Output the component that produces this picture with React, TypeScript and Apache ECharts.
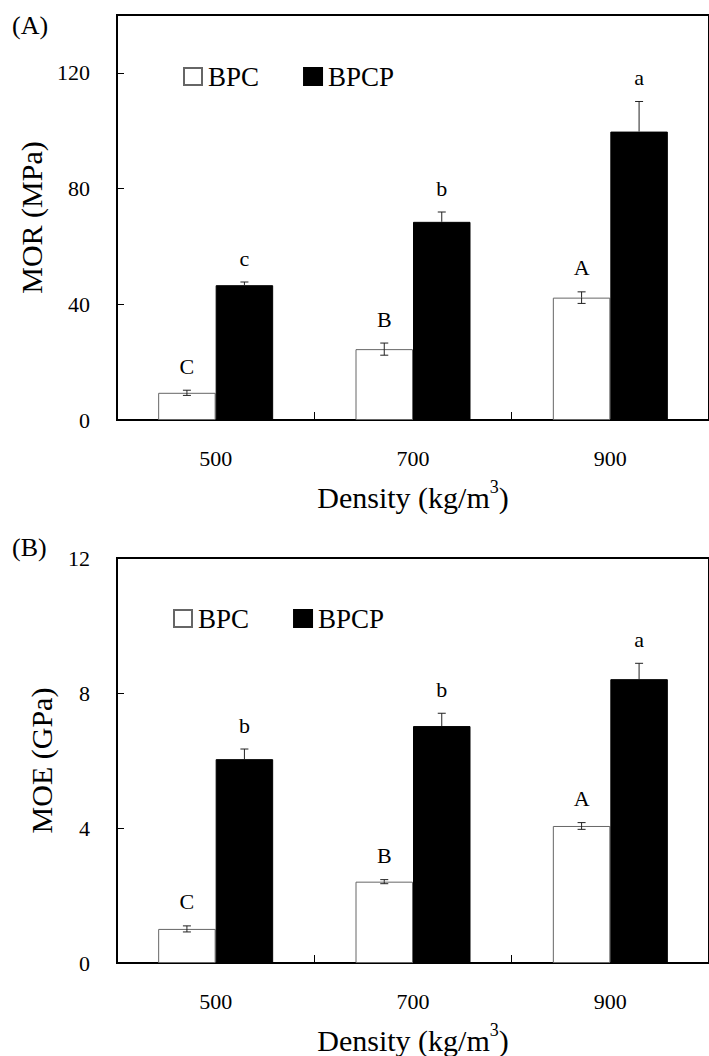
import React, { useEffect, useRef } from "react";
import * as echarts from "echarts";

const categories = ["500", "700", "900"];

const morBPC = [9.4, 24.5, 42.3];
const morBPCErr = [0.9, 2.1, 2.0];
const morBPCP = [46.6, 68.5, 99.7];
const morBPCPErr = [1.1, 3.4, 10.4];
const morBPCLetters = ["C", "B", "A"];
const morBPCPLetters = ["c", "b", "a"];

const moeBPC = [1.01, 2.41, 4.06];
const moeBPCErr = [0.09, 0.06, 0.1];
const moeBPCP = [6.04, 7.02, 8.41];
const moeBPCPErr = [0.3, 0.38, 0.47];
const moeBPCLetters = ["C", "B", "A"];
const moeBPCPLetters = ["b", "b", "a"];

const morTicks = { min: 0, max: 140, interval: 40 };
const moeTicks = { min: 0, max: 12, interval: 4 };

const FONT = '"Liberation Serif", "Times New Roman", serif';
const BAR_W = 57.5;

function errSeries(
  name: string,
  gridIdx: number,
  values: number[],
  errs: number[],
  letters: string[],
  offset: number,
  lowerVisible: boolean
) {
  return {
    type: "custom",
    name,
    xAxisIndex: gridIdx,
    yAxisIndex: gridIdx,
    z: 5,
    silent: true,
    encode: { x: 0, y: 1 },
    data: values.map((v, i) => [i, v, errs[i]]),
    renderItem: (params: any, api: any) => {
      const idx = api.value(0);
      const v = api.value(1);
      const e = api.value(2);
      const c = api.coord([idx, v]);
      const hi = api.coord([idx, v + e]);
      const lo = api.coord([idx, v - e]);
      const cx = c[0] + offset;
      const st = { stroke: "#222", lineWidth: 1 };
      const children: any[] = [
        { type: "line", shape: { x1: cx, y1: hi[1], x2: cx, y2: c[1] }, style: st },
        { type: "line", shape: { x1: cx - 4, y1: hi[1], x2: cx + 4, y2: hi[1] }, style: st },
        {
          type: "text",
          x: cx,
          y: hi[1] - 24,
          style: {
            text: letters[params.dataIndex],
            fill: "#000",
            font: `22px ${FONT}`,
            textAlign: "center",
            textVerticalAlign: "middle",
          },
        },
      ];
      if (lowerVisible) {
        children.push(
          { type: "line", shape: { x1: cx, y1: c[1], x2: cx, y2: lo[1] }, style: st },
          { type: "line", shape: { x1: cx - 4, y1: lo[1], x2: cx + 4, y2: lo[1] }, style: st }
        );
      }
      return { type: "group", children };
    },
  };
}

function yAxisCfg(gridIndex: number, name: string, t: { min: number; max: number; interval: number }, hideMax: boolean) {
  return {
    type: "value",
    gridIndex,
    min: t.min,
    max: t.max,
    interval: t.interval,
    name,
    nameLocation: "middle",
    nameGap: 61,
    nameTextStyle: { fontSize: 30, fontFamily: FONT, color: "#000" },
    axisLine: { show: true, lineStyle: { color: "#000", width: 1.5 } },
    axisTick: { show: true, inside: true, length: 7, lineStyle: { color: "#000", width: 1 } },
    axisLabel: {
      show: true,
      margin: 27,
      fontSize: 22,
      fontFamily: FONT,
      color: "#000",
      showMaxLabel: !hideMax,
    },
    splitLine: { show: false },
  };
}

function xAxisCfg(gridIndex: number) {
  return {
    type: "category",
    gridIndex,
    data: categories,
    boundaryGap: true,
    name: "{n|Density (kg/m}{s|3}{n|)}",
    nameLocation: "middle",
    nameGap: 58,
    nameTextStyle: {
      rich: {
        n: { fontSize: 30, fontFamily: FONT, color: "#000", lineHeight: 34, verticalAlign: "bottom" },
        s: { fontSize: 18, fontFamily: FONT, color: "#000", lineHeight: 34, verticalAlign: "top" },
      },
    },
    axisLine: { show: true, lineStyle: { color: "#000", width: 2 } },
    axisTick: { show: true, inside: true, length: 8, alignWithLabel: false, lineStyle: { color: "#000", width: 1 } },
    axisLabel: { margin: 27, fontSize: 22, fontFamily: FONT, color: "#000" },
    splitLine: { show: false },
  };
}

function legendCfg(top: number, left: number) {
  return {
    top,
    left,
    icon: "rect",
    itemWidth: 18,
    itemHeight: 17,
    itemGap: 44,
    selectedMode: false,
    data: ["BPC", "BPCP"],
    textStyle: { fontSize: 27, fontFamily: FONT, color: "#000", padding: [0, 0, 0, 1] },
  };
}

const bpcStyle = { color: "#fff", borderColor: "#666", borderWidth: 1 };
const bpcpStyle = { color: "#000", borderColor: "#000", borderWidth: 1 };

export default function App() {
  const ref = useRef<HTMLDivElement>(null);
  useEffect(() => {
    document.body.style.margin = "0";
    if (!ref.current) return;
    const chart = echarts.init(ref.current, undefined, { renderer: "svg" });
    chart.setOption({
      animation: false,
      backgroundColor: "#fff",
      textStyle: { fontFamily: FONT },
      grid: [
        { left: 117, top: 15, height: 405, right: -8, show: true, borderColor: "#000", borderWidth: 2, backgroundColor: "transparent" },
        { left: 117, top: 558, height: 405, right: -8, show: true, borderColor: "#000", borderWidth: 2, backgroundColor: "transparent" },
      ],
      legend: [legendCfg(58, 178), legendCfg(600, 168)],
      graphic: [
        { type: "text", left: 12, top: 12, style: { text: "(A)", font: `26px ${FONT}`, fill: "#000" } },
        { type: "text", left: 12, top: 534, style: { text: "(B)", font: `26px ${FONT}`, fill: "#000" } },
      ],
      xAxis: [xAxisCfg(0), xAxisCfg(1)],
      yAxis: [yAxisCfg(0, "MOR (MPa)", morTicks, true), yAxisCfg(1, "MOE (GPa)", moeTicks, false)],
      series: [
        { type: "bar", name: "BPC", xAxisIndex: 0, yAxisIndex: 0, data: morBPC, barWidth: BAR_W, barGap: "0%", itemStyle: bpcStyle },
        { type: "bar", name: "BPCP", xAxisIndex: 0, yAxisIndex: 0, data: morBPCP, barWidth: BAR_W, barGap: "0%", itemStyle: bpcpStyle },
        errSeries("errA1", 0, morBPC, morBPCErr, morBPCLetters, -BAR_W / 2, true),
        errSeries("errA2", 0, morBPCP, morBPCPErr, morBPCPLetters, BAR_W / 2, false),
        { type: "bar", name: "BPC", xAxisIndex: 1, yAxisIndex: 1, data: moeBPC, barWidth: BAR_W, barGap: "0%", itemStyle: bpcStyle },
        { type: "bar", name: "BPCP", xAxisIndex: 1, yAxisIndex: 1, data: moeBPCP, barWidth: BAR_W, barGap: "0%", itemStyle: bpcpStyle },
        errSeries("errB1", 1, moeBPC, moeBPCErr, moeBPCLetters, -BAR_W / 2, true),
        errSeries("errB2", 1, moeBPCP, moeBPCPErr, moeBPCPLetters, BAR_W / 2, false),
      ],
    });
    return () => chart.dispose();
  }, []);
  return <div ref={ref} style={{ width: 709, height: 1056 }} />;
}
